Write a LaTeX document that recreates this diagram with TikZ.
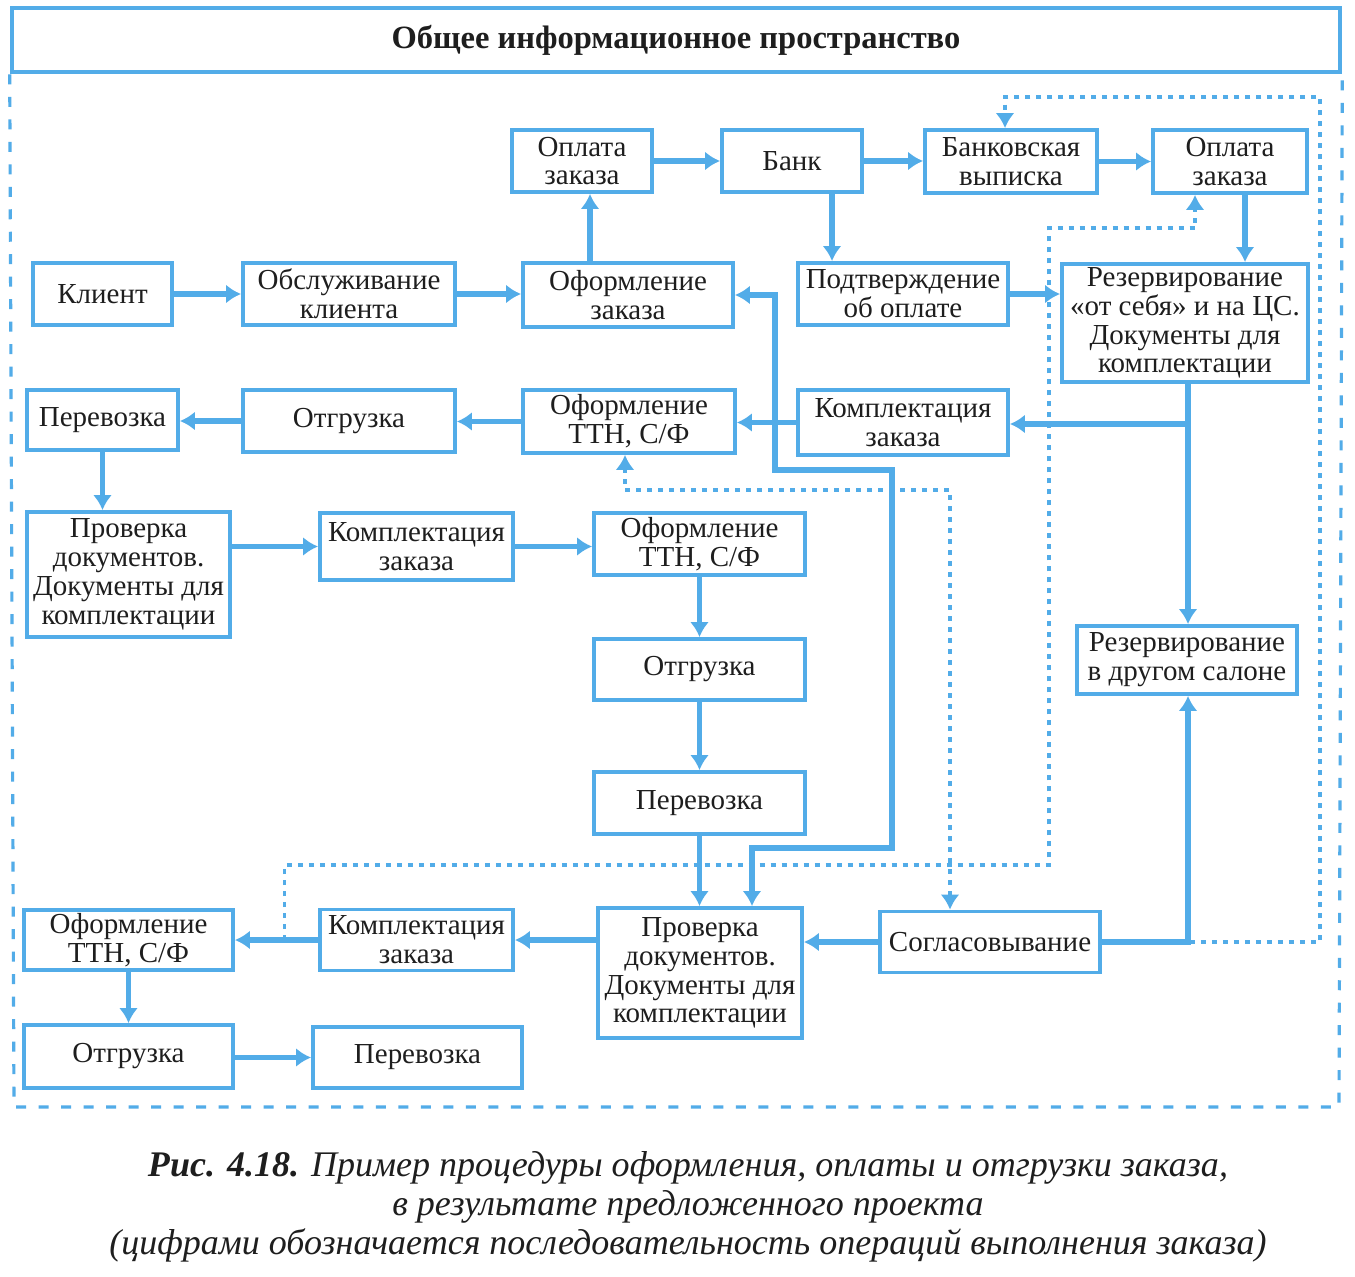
\documentclass[tikz,border=0pt]{standalone}
\usepackage{fontspec}
\setmainfont{Liberation Serif}
\usetikzlibrary{arrows.meta,calc}
\definecolor{lblue}{RGB}{82,172,232}
\definecolor{ink}{RGB}{30,30,30}
\begin{document}
\begin{tikzpicture}[x=0.02cm,y=-0.02cm,
  >={Latex[length=0.3cm,width=0.38cm]},
  box/.style={draw=lblue, line width=2.2pt, fill=white, inner sep=0pt, align=center,
              text=ink, font=\fontsize{16.5}{16.4}\selectfont},
  wh/.style 2 args={minimum width=#1*0.02cm, minimum height=#2*0.02cm},
  flow/.style={draw=lblue, line width=3.4pt, ->},
  dlink/.style={draw=lblue, line width=1.8pt, dash pattern=on 0.1cm off 0.12cm},
  frame/.style={draw=lblue, line width=1.8pt, dash pattern=on 0.2cm off 0.25cm},
]
\useasboundingbox (0,0) rectangle (1355,1277);
\fill[white] (0,0) rectangle (1355,1277);

% header
\node[draw=lblue, line width=2.6pt, inner sep=0pt, wh={1328}{64}, text=ink,
      font=\fontsize{18.5}{20}\selectfont\bfseries] (hdr) at (676,40)
      {Общее информационное пространство};
\coordinate (fbl) at (14,1107);
\coordinate (fbr) at (1339,1107);
\draw[frame] (hdr.south west) -- (fbl) -- (fbr) -- (hdr.south east);

% row 1
\node[box, wh={140}{62}] (opl1) at (582,161) {Оплата\\заказа};
\node[box, wh={140}{62}] (bank) at (792,161) {Банк};
\node[box, wh={172}{63}] (vyp) at (1011,161.5) {Банковская\\выписка};
\node[box, wh={154}{63}] (opl2) at (1230,161.5) {Оплата\\заказа};
% row 2
\node[box, wh={139}{62}] (klient) at (102.5,294) {Клиент};
\node[box, wh={212}{62}] (obsl) at (349,294) {Обслуживание\\клиента};
\node[box, wh={210}{64}] (ofz) at (628,295) {Оформление\\заказа};
\node[box, wh={210}{62}] (podt) at (903,294) {Подтверждение\\об оплате};
\node[box, wh={246}{118}] (rez1) at (1185,323) {Резервирование\\«от себя» и на ЦС.\\Документы для\\комплектации};
% row 3
\node[box, wh={151}{60}] (per1) at (102.5,420) {Перевозка};
\node[box, wh={212}{62}] (otg1) at (349,421) {Отгрузка};
\node[box, wh={212}{63}] (ttn1) at (629,421.5) {Оформление\\ТТН, С/Ф};
\node[box, wh={210}{65}] (kom1) at (903,422.5) {Комплектация\\заказа};
% row 4
\node[box, wh={203}{125}] (prov1) at (128.5,574.5) {Проверка\\документов.\\Документы для\\комплектации};
\node[box, wh={193}{67}] (kom2) at (416.5,546.5) {Комплектация\\заказа};
\node[box, wh={211}{62}] (ttn2) at (699.5,544) {Оформление\\ТТН, С/Ф};
\node[box, wh={211}{61}] (otg2) at (699.5,669.5) {Отгрузка};
\node[box, wh={211}{62}] (per2) at (699.5,803) {Перевозка};
\node[box, wh={220}{68}] (rez2) at (1187,660) {Резервирование\\в другом салоне};
% bottom
\node[box, wh={209}{60}] (ttn3) at (128.5,940) {Оформление\\ТТН, С/Ф};
\node[box, wh={193}{61}] (kom3) at (416.5,940) {Комплектация\\заказа};
\node[box, wh={204}{130}] (prov2) at (700,973) {Проверка\\документов.\\Документы для\\комплектации};
\node[box, wh={220}{61}] (sogl) at (990,942) {Согласовывание};
\node[box, wh={209}{63}] (otg3) at (128.5,1056.5) {Отгрузка};
\node[box, wh={209}{61}] (per3) at (417.5,1057.5) {Перевозка};

% dashed links
\draw[dlink, ->] (sogl.east) -| (1320,97) -| (vyp.north -| 1005,0);
\coordinate (dj) at ($(ttn3.east)!0.6!(kom3.west)$);
\draw[dlink, ->] (dj) |- (1049,865) |- (1195,228) -- (opl2.south -| 1195,0);
\draw[dlink, <->] (ttn1.south -| 625,0) |- (950,490) -- (sogl.north -| 950,0);

% solid flows
\draw[flow] (klient.east) -- (klient.east -| obsl.west);
\draw[flow] (obsl.east) -- (obsl.east -| ofz.west);
\draw[flow] (ofz.north -| 590,0) -- (opl1.south -| 590,0);
\draw[flow] (opl1.east) -- (opl1.east -| bank.west);
\draw[flow] (bank.east) -- (bank.east -| vyp.west);
\draw[flow] (vyp.east) -- (vyp.east -| opl2.west);
\draw[flow] (bank.south -| 832,0) -- (podt.north -| 832,0);
\draw[flow] (opl2.south -| 1245,0) -- (rez1.north -| 1245,0);
\draw[flow] (podt.east) -- (podt.east -| rez1.west);
\draw[flow] (rez1.south -| 1188,0) -- (rez2.north -| 1188,0);
\coordinate (jr) at (1188,424);
\draw[flow] (jr) -- (kom1.east |- jr);
\draw[flow] (kom1.west) -- (kom1.west -| ttn1.east);
\draw[flow] (ttn1.west) -- (ttn1.west -| otg1.east);
\draw[flow] (otg1.west) -- (otg1.west -| per1.east);
\draw[flow] (per1.south) -- (per1.south |- prov1.north);
\draw[flow] (kom2.west -| prov1.east) -- (kom2.west);
\draw[flow] (kom2.east) -- (kom2.east -| ttn2.west);
\draw[flow] (ttn2.south) -- (otg2.north);
\draw[flow] (otg2.south) -- (per2.north);
\draw[flow] (per2.south) -- (per2.south |- prov2.north);
\draw[flow, <->] (ofz.east) -| (775,470) -| (892,848) -| (prov2.north -| 752,0);
\draw[flow] (sogl.west) -- (sogl.west -| prov2.east);
\draw[flow] (prov2.west |- kom3.east) -- (kom3.east);
\draw[flow] (kom3.west) -- (kom3.west -| ttn3.east);
\draw[flow] (ttn3.south) -- (otg3.north);
\draw[flow] (otg3.east |- per3.west) -- (per3.west);
\draw[flow] (sogl.east) -| (rez2.south -| 1188,0);

% caption
\node[align=center, text=ink, font=\fontsize{20.5}{22.1}\selectfont\itshape] (cap) at (688,1207)
  {{\bfseries Рис. 4.18.} Пример процедуры оформления, оплаты и отгрузки заказа,\\
   в результате предложенного проекта\\
   (цифрами обозначается последовательность операций выполнения заказа)};
\end{tikzpicture}
\end{document}
